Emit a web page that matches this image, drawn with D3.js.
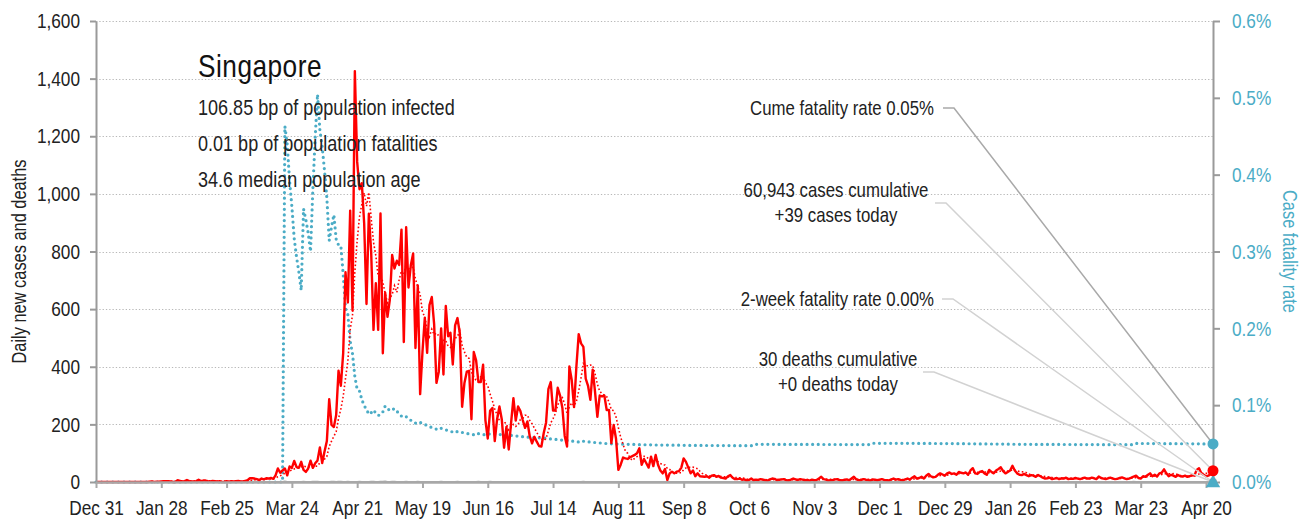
<!DOCTYPE html>
<html>
<head>
<meta charset="utf-8">
<script src="https://cdn.jsdelivr.net/npm/d3@7"></script>
<style>
  body { margin: 0; background: #fff; }
  svg text { font-family: "Liberation Sans", Arial, sans-serif; }
</style>
</head>
<body>
<svg id="chart" width="1314" height="522"></svg>
<script>
// ---- data -------------------------------------------------------------
const startDate = "2019-12-31";

// Daily new confirmed cases, one value per day from Dec 31, 2019
const dailyCases = [
  0,
  // Jan 2020
  0,0,0,0,0,0,0,0,0,0,0,0,0,0,0,0,0,0,0,0,0,0,1,2,0,1,1,2,3,3,3,
  // Feb
  2,0,0,6,4,2,3,7,3,2,2,3,8,3,5,5,3,2,4,3,1,3,0,1,3,1,3,2,3,
  // Mar
  4,2,2,4,6,13,13,12,10,6,12,9,13,12,14,11,23,47,32,40,47,23,54,49,73,52,49,70,42,35,47,
  // Apr
  74,49,65,75,120,66,106,142,287,198,191,233,386,334,447,728,623,942,596,1426,1111,1016,1037,897,618,931,799,528,690,528,
  // May
  932,447,657,573,632,788,741,768,753,876,486,884,675,752,793,465,682,305,451,570,448,614,642,548,344,383,533,373,611,506,518,
  // Jun
  408,544,569,517,261,344,383,386,218,451,422,347,347,407,214,151,247,257,142,218,262,218,119,191,113,205,291,213,262,246,
  // Jul
  215,188,210,159,134,157,140,125,123,170,206,322,347,248,248,327,300,257,160,123,401,354,260,400,513,481,469,359,334,285,390,
  // Aug
  313,226,300,297,300,250,250,135,198,150,42,60,85,82,80,86,90,94,100,117,60,80,65,50,88,55,94,60,40,30,45,
  // Sep
  7,30,36,30,36,38,50,82,70,50,30,40,20,30,20,19,18,20,15,22,24,18,21,15,14,12,20,24,15,10,
  // Oct
  10,12,8,9,5,7,12,6,8,7,10,8,6,5,9,12,11,6,8,9,10,6,5,8,12,9,7,10,8,6,7,
  // Nov
  5,8,6,7,12,18,10,8,5,6,7,9,10,6,5,8,9,6,12,18,9,7,6,10,8,7,5,9,8,6,
  // Dec
  8,10,7,6,5,9,12,8,10,7,6,9,12,8,15,20,12,14,18,12,22,28,20,16,18,25,30,26,22,30,33,
  // Jan 2021
  28,30,25,35,32,30,33,25,40,48,30,28,35,38,30,25,42,35,30,40,45,51,38,30,35,40,56,40,30,25,24,
  // Feb
  28,24,20,24,22,18,24,20,15,12,13,15,10,12,14,10,13,12,15,10,12,11,14,12,10,13,15,12,
  // Mar
  12,15,13,10,19,14,12,10,13,15,12,10,11,14,16,13,10,12,15,19,22,14,12,20,18,24,30,20,25,19,30,
  // Apr
  32,44,30,20,25,22,18,24,20,19,22,18,20,24,22,42,48,30,25,20,22,28,39
];

// Days on which deaths were reported, and how many
const deathDates = [
  "2020-03-21","2020-03-29","2020-04-02","2020-04-03","2020-04-04","2020-04-10","2020-04-11",
  "2020-04-13","2020-04-14","2020-04-17","2020-04-22","2020-04-27","2020-04-28","2020-05-01",
  "2020-05-02","2020-05-03","2020-05-06","2020-05-07","2020-05-12","2020-05-17","2020-05-27",
  "2020-06-03","2020-06-12","2020-06-17","2020-07-27","2020-10-09","2020-11-28","2021-03-20"
];
const deathCounts = [2,1,1,1,1,1,1,1,1,1,1,1,1,1,1,2,1,1,1,1,1,1,1,1,1,1,1,1];

const xTickDates = [
  "2019-12-31","2020-01-28","2020-02-25","2020-03-24","2020-04-21","2020-05-19",
  "2020-06-16","2020-07-14","2020-08-11","2020-09-08","2020-10-06","2020-11-03",
  "2020-12-01","2020-12-29","2021-01-26","2021-02-23","2021-03-23","2021-04-20"
];
const caseTicks = [0, 200, 400, 600, 800, 1000, 1200, 1400, 1600];
const rateTicks = [0, 0.001, 0.002, 0.003, 0.004, 0.005, 0.006];

const titleText = "Singapore";
const infoLines = [
  "106.85 bp of population infected",
  "0.01 bp of population fatalities",
  "34.6 median population age"
];
const cumeRateLabel = ["Cume fatality rate 0.05%"];
const casesLabel = ["60,943 cases cumulative", "+39 cases today"];
const twoWeekLabel = ["2-week fatality rate 0.00%"];
const deathsLabel = ["30 deaths cumulative", "+0 deaths today"];

// ---- derived series ----------------------------------------------------
const parse = d3.utcParse("%Y-%m-%d");
const t0 = parse(startDate);
const dates = dailyCases.map((_, i) => d3.utcDay.offset(t0, i));
const deathKey = new Map(deathDates.map((d, i) => [d, deathCounts[i]]));
const fmtKey = d3.utcFormat("%Y-%m-%d");
const dailyDeaths = dates.map(d => deathKey.get(fmtKey(d)) || 0);
const cumCases = Array.from(d3.cumsum(dailyCases));
const cumDeaths = Array.from(d3.cumsum(dailyDeaths));
const fatality = cumCases.map((c, i) => c > 0 ? cumDeaths[i] / c : 0);
const avg7 = dailyCases.map((v, i) => i < 6 ? null : d3.mean(dailyCases.slice(i - 6, i + 1)));
const last = dailyCases.length - 1;
const twoWeekRate = d3.sum(dailyDeaths.slice(-14)) / d3.sum(dailyCases.slice(-14));

// ---- layout ------------------------------------------------------------
const X0 = 96, X1 = 1213, Y0 = 482, Y1 = 21;
const TEAL = "#4bacc6", RED = "#ff0000", INK = "#222";
const NARROW = 0.82;   // horizontal squeeze giving a narrow face

const x = d3.scaleUtc().domain([t0, dates[last]]).range([X0, X1]);
const y = d3.scaleLinear().domain([0, 1600]).range([Y0, Y1]);
const yr = d3.scaleLinear().domain([0, 0.006]).range([Y0, Y1]);

const svg = d3.select("#chart");

// narrow text placed at (px, py), optionally rotated
function addText(parent, px, py, str, size, fill, anchor = "start", rot = 0) {
  return parent.append("text")
    .attr("transform", `translate(${px},${py}) rotate(${rot}) scale(${NARROW},1)`)
    .attr("text-anchor", anchor)
    .attr("font-size", size)
    .attr("fill", fill)
    .text(str);
}

// horizontal dotted grid
svg.append("g")
  .selectAll("line")
  .data(caseTicks.filter(v => v > 0))
  .join("line")
  .attr("x1", X0).attr("x2", X1)
  .attr("y1", d => Math.round(y(d)) + 0.5).attr("y2", d => Math.round(y(d)) + 0.5)
  .attr("stroke", "#b8b8b8").attr("stroke-width", 1.2)
  .attr("stroke-dasharray", "1.3,2");

// case fatality rate (dotted teal)
svg.append("path")
  .datum(fatality)
  .attr("fill", "none")
  .attr("stroke", TEAL)
  .attr("stroke-width", 3.2)
  .attr("stroke-linecap", "round")
  .attr("stroke-dasharray", "0,5.6")
  .attr("d", d3.line().x((d, i) => x(dates[i])).y(d => yr(d)));

// daily deaths (grey)
svg.append("path")
  .datum(dailyDeaths)
  .attr("fill", "none")
  .attr("stroke", "#a6a6a6")
  .attr("stroke-width", 2)
  .attr("d", d3.line().x((d, i) => x(dates[i])).y(d => y(d)));

// 7-day average of cases (thin dotted red)
svg.append("path")
  .datum(avg7)
  .attr("fill", "none")
  .attr("stroke", RED)
  .attr("stroke-width", 1.6)
  .attr("stroke-dasharray", "1.6,2.2")
  .attr("d", d3.line().defined(d => d !== null).x((d, i) => x(dates[i])).y(d => y(d)));

// daily cases (solid red)
svg.append("path")
  .datum(dailyCases)
  .attr("fill", "none")
  .attr("stroke", RED)
  .attr("stroke-width", 2.4)
  .attr("stroke-linejoin", "round")
  .attr("d", d3.line().x((d, i) => x(dates[i])).y(d => y(d)));

// ---- axes --------------------------------------------------------------
function styleAxis(g, color, width, textFill) {
  g.select(".domain").attr("stroke", color).attr("stroke-width", width);
  g.selectAll(".tick line").attr("stroke", color).attr("stroke-width", 2);
  g.selectAll(".tick text")
    .attr("font-size", 21)
    .attr("fill", textFill)
    .attr("x", function () { return (+this.getAttribute("x") || 0) / NARROW; })
    .attr("transform", `scale(${NARROW},1)`);
}

const gLeft = svg.append("g")
  .attr("transform", `translate(${X0},0)`)
  .call(d3.axisLeft(y).tickValues(caseTicks).tickFormat(d3.format(","))
    .tickSize(6).tickSizeOuter(0).tickPadding(10));
styleAxis(gLeft, "#9a9a9a", 2, INK);

const gRight = svg.append("g")
  .attr("transform", `translate(${X1},0)`)
  .call(d3.axisRight(yr).tickValues(rateTicks).tickFormat(d3.format(".1%"))
    .tickSize(7).tickSizeOuter(0).tickPadding(12));
styleAxis(gRight, "#9a9a9a", 2, TEAL);

const gBottom = svg.append("g")
  .attr("transform", `translate(0,${Y0})`)
  .call(d3.axisBottom(x).tickValues(xTickDates.map(parse))
    .tickFormat(d3.utcFormat("%b %-d"))
    .tickSize(6).tickSizeOuter(0).tickPadding(12));
styleAxis(gBottom, "#a8a8a8", 2.6, INK);

// axis titles
addText(svg, 26, (Y0 + Y1) / 2 + 10, "Daily new cases and deaths", 20, INK, "middle", -90);
addText(svg, 1283, (Y0 + Y1) / 2, "Case fatality rate", 20, TEAL, "middle", 90);

// ---- title block -------------------------------------------------------
addText(svg, 198, 77, titleText, 32, "#111").attr("letter-spacing", 0.6);
infoLines.forEach((line, i) => addText(svg, 198, 115 + i * 36, line, 22, INK));

// ---- end-of-series markers and callouts --------------------------------
const xe = x(dates[last]);
const markers = {
  cfr: yr(fatality[last]),
  cases: y(dailyCases[last]),
  twoWeek: yr(twoWeekRate),
  deaths: y(dailyDeaths[last])
};

const leaders = [
  { from: [943, 108], to: markers.cfr, color: "#a9a9a9" },
  { from: [935, 203], to: markers.cases, color: "#d2d2d2" },
  { from: [942, 299], to: markers.twoWeek, color: "#d2d2d2" },
  { from: [923, 372], to: markers.deaths, color: "#d2d2d2" }
];
svg.append("g").selectAll("polyline")
  .data(leaders)
  .join("polyline")
  .attr("fill", "none")
  .attr("stroke", d => d.color)
  .attr("stroke-width", 1.5)
  .attr("points", d => `${d.from[0]},${d.from[1]} ${d.from[0] + 11},${d.from[1]} ${xe},${d.to}`);

svg.append("circle").attr("cx", xe).attr("cy", markers.deaths).attr("r", 4).attr("fill", "#a6a6a6");
svg.append("path")
  .attr("transform", `translate(${xe},${markers.twoWeek + 1})`)
  .attr("d", d3.symbol(d3.symbolTriangle, 90)())
  .attr("fill", TEAL);
svg.append("circle").attr("cx", xe).attr("cy", markers.cases).attr("r", 5.5).attr("fill", RED);
svg.append("circle").attr("cx", xe).attr("cy", markers.cfr).attr("r", 5.5).attr("fill", TEAL);

function labelBlock(lines, xPos, yBase, anchor) {
  lines.forEach((line, i) => addText(svg, xPos, yBase + i * 25, line, 20.5, INK, anchor));
}
labelBlock(cumeRateLabel, 934, 115, "end");
labelBlock(casesLabel, 836, 197, "middle");
labelBlock(twoWeekLabel, 934, 306, "end");
labelBlock(deathsLabel, 838, 366, "middle");
</script>
</body>
</html>
